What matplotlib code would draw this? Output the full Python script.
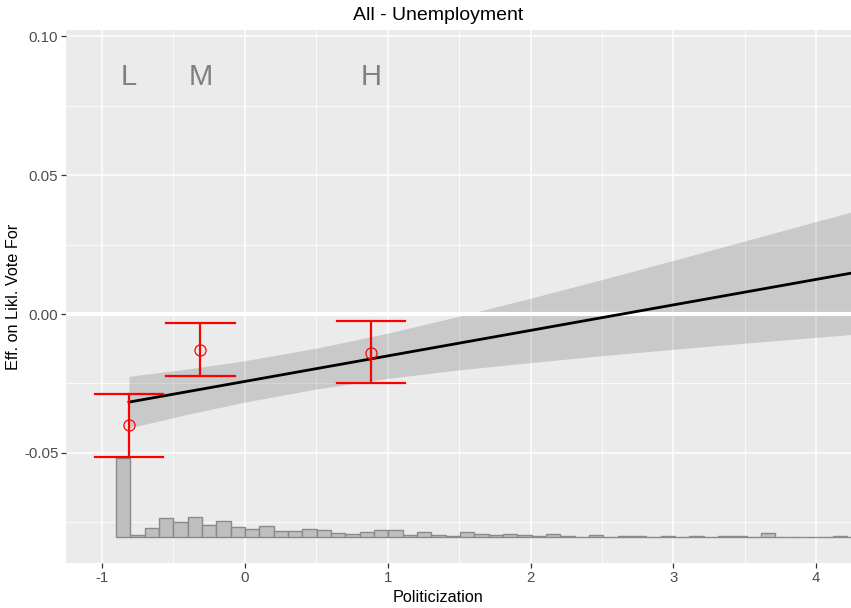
"""
Marginal effect of unemployment on likelihood to vote for, by politicization.
"""

import matplotlib
matplotlib.use("Agg")
import matplotlib.pyplot as plt
import numpy as np

plt.rcParams["font.family"] = ["Liberation Sans", "DejaVu Sans"]
plt.rcParams["axes.unicode_minus"] = False

# --- data ---
# binned point estimates (L, M, H)
bin_labels = ["L", "M", "H"]
bin_x = [-0.81, -0.31, 0.885]
bin_est = [-0.0400, -0.0129, -0.0140]
bin_lo = [-0.0514, -0.0223, -0.0248]
bin_hi = [-0.0288, -0.0032, -0.0025]

# linear marginal effect and its confidence band
line_x = [-0.81, 4.244]
line_y = [-0.0317, 0.0147]
band_x = [-0.81, -0.4, 0.0, 0.5, 1.0, 1.5, 2.0, 2.5, 3.0, 3.5, 4.0, 4.244]
band_lo = [-0.0410, -0.0361, -0.0317, -0.0270, -0.0232, -0.0201,
           -0.0175, -0.0150, -0.0127, -0.0105, -0.0084, -0.0074]
band_hi = [-0.0224, -0.0198, -0.0168, -0.0123, -0.0069, -0.0008,
           0.0057, 0.0124, 0.0193, 0.0263, 0.0333, 0.0367]

# histogram of the moderator (bar heights in pixels of the reference)
hist_start = -0.90
hist_width = 0.1003
hist_base = -0.0802
hist_px = [79, 1.8, 8.6, 19, 15, 20.3, 12, 15.5, 10, 8.3,
           11, 6.3, 5.5, 8.3, 6.8, 4.3, 2.6, 4.8, 6.8, 6.5,
           1.8, 5, 2, 1.3, 4.5, 2.4, 1.6, 3.3, 2, 0.6,
           2.6, 1.3, 0.3, 2, 0, 0.6, 1.3, 0.3, 0.8, 0.3,
           0.8, 0.3, 0.6, 0.8, 0.3, 4.3, 0, 0, 0, 0,
           0.8, 0]
hist_heights = [h / 2780 for h in hist_px]

_BG = "#EBEBEB"
_RED = "#FF0000"

fig = plt.figure(figsize=(8.51, 6.08), dpi=100)
ax = fig.add_axes([66 / 851, 45 / 608, 785 / 851, 533 / 608])
ax.set_facecolor(_BG)
for s in ax.spines.values():
    s.set_visible(False)

ax.set_xlim(-1.251, 4.243)
ax.set_ylim(-0.0896, 0.1022)

ax.set_xticks(np.arange(-1, 5))
ax.set_xticks(np.arange(-0.5, 4.0, 1.0), minor=True)
ax.set_yticks([-0.05, 0.0, 0.05, 0.10])
ax.set_yticklabels(["-0.05", "0.00", "0.05", "0.10"])
ax.set_yticks([-0.075, -0.025, 0.025, 0.075], minor=True)
ax.grid(which="major", color="white", linewidth=1.1)
ax.grid(which="minor", color="white", linewidth=0.55)
ax.set_axisbelow(True)
ax.tick_params(which="major", length=3.5, width=0.9, color="#333333",
               labelcolor="#4D4D4D", labelsize=10.8, pad=2)
ax.tick_params(which="minor", length=0)

# histogram
lefts = hist_start + hist_width * np.arange(len(hist_heights))
ax.bar(lefts, hist_heights, width=hist_width, bottom=hist_base, align="edge",
       color="#BFBFBF", edgecolor="#8A8A8A", linewidth=1.0, zorder=2)

# confidence band + line
ax.fill_between(band_x, band_lo, band_hi, color="black", alpha=0.14,
                linewidth=0, zorder=3)
ax.axhline(0, color="white", linewidth=3, zorder=3.5)
ax.plot(line_x, line_y, color="black", linewidth=2.0, zorder=4)

# binned estimates
for x, e, lo, hi in zip(bin_x, bin_est, bin_lo, bin_hi):
    ax.plot([x, x], [lo, hi], color=_RED, linewidth=1.6, zorder=5)
    ax.plot([x - 0.24, x + 0.24], [lo, lo], color=_RED, linewidth=1.6, zorder=5)
    ax.plot([x - 0.24, x + 0.24], [hi, hi], color=_RED, linewidth=1.6, zorder=5)
ax.plot(bin_x, bin_est, "o", markersize=8, markerfacecolor="none",
        markeredgecolor=_RED, markeredgewidth=0.9, zorder=6)

for lab, x in zip(bin_labels, bin_x):
    ax.text(x, 0.0853, lab, ha="center", va="center", fontsize=21,
            color="#7F7F7F", zorder=6)

# title and x label sit centred at x ~ 438 px in the reference
fig.text(438 / 851, 1 - 16 / 608, "All - Unemployment", ha="center",
         va="center", fontsize=14)
fig.text(438 / 851, 1 - 598 / 608, "Politicization", ha="center",
         va="center", fontsize=11.7)
fig.text(14 / 851, 1 - 297 / 608, "Eff. on Likl. Vote For", ha="center",
         va="center", rotation=90, fontsize=11.7)

fig.savefig("out.png", dpi=100)
